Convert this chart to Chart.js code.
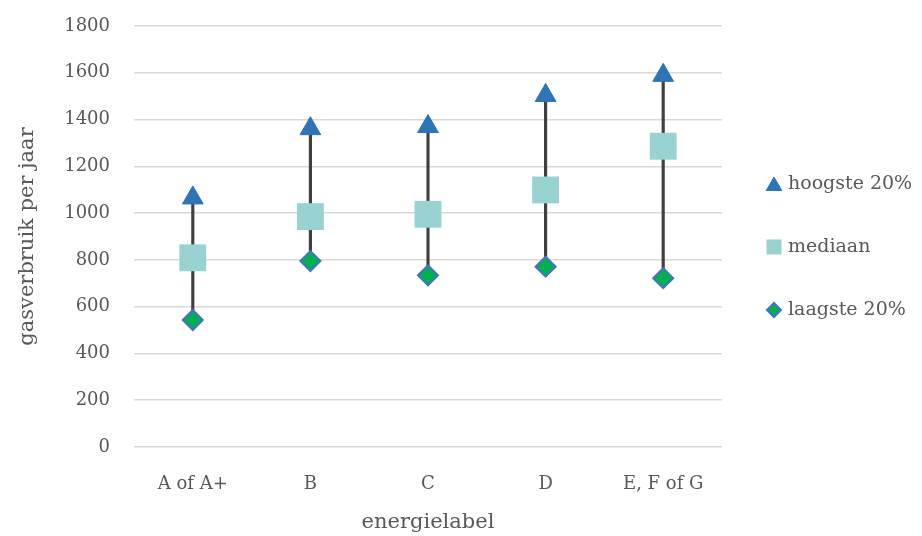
<!DOCTYPE html>
<html>
<head>
<meta charset="utf-8">
<title>gasverbruik per energielabel</title>
<script src="https://cdn.jsdelivr.net/npm/chart.js@4.4.0/dist/chart.umd.min.js"></script>
<style>
  html, body { margin: 0; padding: 0; background: #fff; }
  #wrap { width: 922px; height: 536px; }
</style>
</head>
<body>
<div id="wrap"><canvas id="chart"></canvas></div>
<script>
// data
const categories = ['A of A+', 'B', 'C', 'D', 'E, F of G'];
const hoogste = [1065, 1361, 1370, 1503, 1589];
const mediaan = [809, 985, 995, 1099, 1286];
const laagste = [543, 795, 734, 771, 722];
const yTicks = [0, 200, 400, 600, 800, 1000, 1200, 1400, 1600, 1800];

const serif = '"DejaVu Serif", "Liberation Serif", serif';
const grey = '#595959';

// high-low lines as thin floating bars
const ranges = laagste.map((lo, i) => [lo, hoogste[i]]);

// legend on the right, drawn by hand so it sits where the original has it
const sideLegend = {
  id: 'sideLegend',
  afterDraw(chart) {
    const ctx = chart.ctx;
    const items = [
      { text: 'hoogste 20%', style: 'triangle', r: 9, fill: '#2E75B6', stroke: '#2E75B6', bw: 1 },
      { text: 'mediaan', style: 'rect', r: 10.6, fill: '#98D2D1', stroke: '#98D2D1', bw: 0 },
      { text: 'laagste 20%', style: 'rectRot', r: 7, fill: '#00B050', stroke: '#4472C4', bw: 2 }
    ];
    ctx.save();
    ctx.font = '19px ' + serif;
    ctx.textBaseline = 'middle';
    items.forEach((it, i) => {
      const y = 184 + i * 63;
      ctx.fillStyle = it.fill;
      ctx.strokeStyle = it.stroke;
      ctx.lineWidth = it.bw;
      Chart.helpers.drawPoint(ctx, { pointStyle: it.style, radius: it.r, rotation: 0, borderWidth: it.bw }, 774, y + (it.style === 'triangle' ? 2 : 0));
      ctx.fillStyle = grey;
      ctx.fillText(it.text, 788, y);
    });
    ctx.restore();
  }
};

new Chart(document.getElementById('chart'), {
  type: 'bar',
  data: {
    labels: categories,
    datasets: [
      {
        label: 'bereik',
        data: ranges,
        backgroundColor: '#404040',
        barThickness: 2.5,
        order: 10
      },
      {
        type: 'line',
        label: 'hoogste 20%',
        data: hoogste,
        showLine: false,
        pointStyle: 'triangle',
        pointRadius: 12,
        pointHoverRadius: 12,
        backgroundColor: '#2E75B6',
        borderColor: '#2E75B6',
        pointBorderWidth: 1,
        order: 1
      },
      {
        type: 'line',
        label: 'mediaan',
        data: mediaan,
        showLine: false,
        pointStyle: 'rect',
        pointRadius: 19,
        pointHoverRadius: 19,
        backgroundColor: '#98D2D1',
        borderColor: '#98D2D1',
        pointBorderWidth: 0,
        order: 2
      },
      {
        type: 'line',
        label: 'laagste 20%',
        data: laagste,
        showLine: false,
        pointStyle: 'rectRot',
        pointRadius: 10,
        pointHoverRadius: 10,
        backgroundColor: '#00B050',
        borderColor: '#4472C4',
        pointBorderWidth: 2,
        order: 0
      }
    ]
  },
  options: {
    responsive: true,
    maintainAspectRatio: false,
    animation: false,
    layout: { padding: { top: 26, right: 200, bottom: 0, left: 0 } },
    plugins: {
      legend: { display: false },
      tooltip: { enabled: false }
    },
    scales: {
      x: {
        grid: { display: false },
        border: { display: false },
        ticks: { color: grey, font: { family: serif, size: 18 }, padding: 19 },
        title: {
          display: true,
          text: 'energielabel',
          color: grey,
          font: { family: serif, size: 21 },
          padding: { top: 0, bottom: 1 }
        },
        afterFit: s => { s.height = 89; }
      },
      y: {
        min: 0,
        max: 1800,
        afterBuildTicks: s => { s.ticks = yTicks.map(v => ({ value: v })); },
        grid: { color: '#D9D9D9', lineWidth: 1.5, drawTicks: false },
        border: { display: false },
        ticks: { color: grey, font: { family: serif, size: 18 }, padding: 24, callback: v => String(v) },
        title: {
          display: true,
          text: 'gasverbruik per jaar',
          color: grey,
          font: { family: serif, size: 21 },
          padding: { top: 15, bottom: 0 }
        },
        afterFit: s => { s.width = 134; s.paddingTop = 0; s.paddingBottom = 0; }
      }
    }
  },
  plugins: [sideLegend]
});
</script>
</body>
</html>
